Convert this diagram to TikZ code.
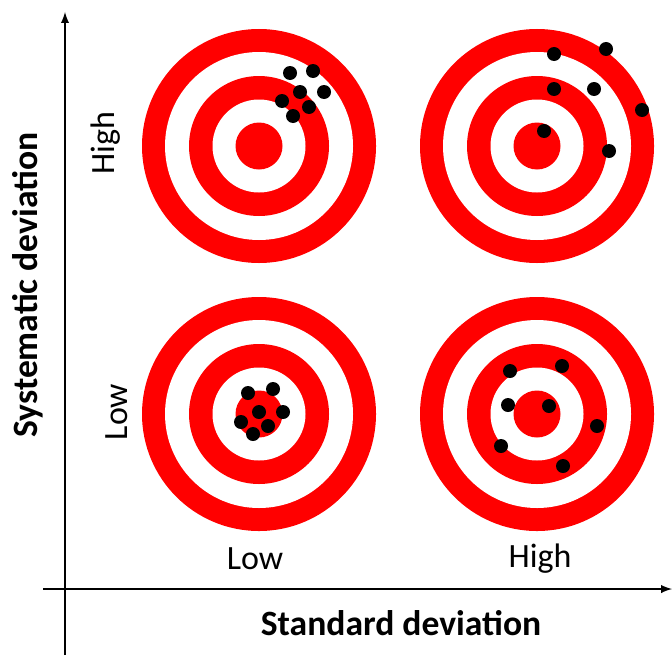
\documentclass[tikz,border=0pt]{standalone}
\usepackage{fontspec}
\setmainfont{Carlito}

\begin{document}
\begin{tikzpicture}[x=0.5pt,y=0.5pt,>=latex,
    lvl/.style={font=\fontsize{17}{20}\selectfont,anchor=base},
    axlbl/.style={font=\fontsize{17.8}{21}\selectfont\bfseries,anchor=base},
    shot/.style={fill=black}]
                \useasboundingbox (0,0) rectangle (672,655);

                % the four targets
                \foreach \cx/\cy in {259/509,537/509,259/241,537/241}{
                    \foreach \r/\c in {117/red,94/white,70/red,46.5/white,23.5/red}
                        \fill[\c] (\cx,\cy) circle (\r);
                }

                % hits
                \foreach \p in {(290,582),(313,584),(300,563),(324,563),(282,554),(309,548),(293,539)}
                    \fill[shot] \p circle (7);
                \foreach \p in {(554,601),(606,606),(554,566),(594,566),(642,545),(544,524),(609,504)}
                    \fill[shot] \p circle (7);
                \foreach \p in {(248,262),(273,266),(259,243),(283,243),(241,233),(268,229),(253,221)}
                    \fill[shot] \p circle (7);
                \foreach \p in {(510,284),(562,289),(508,250),(549,249),(597,229),(501,209),(563,189)}
                    \fill[shot] \p circle (7);

                % axes
                \coordinate (ybot) at (65,0);
                \coordinate (ytop) at (65,643);
                \coordinate (xleft) at (43,66);
                \coordinate (xright) at (672,66);
                \draw[->,line width=0.9pt] (ybot)--(ytop);
                \draw[->,line width=0.9pt] (xleft)--(xright);

                \node[axlbl] (sd) at (401,20) {Standard deviation};
                \node[axlbl,rotate=90] (sys) at (37,370) {Systematic deviation};

                \node[lvl] (xlow) at (255,86) {Low};
                \node[lvl] (xhigh) at (540,88) {High};
                \node[lvl,rotate=90] (yhigh) at (114,512) {High};
                \node[lvl,rotate=90] (ylow) at (127,243) {Low};
            \end{tikzpicture}
\end{document}
